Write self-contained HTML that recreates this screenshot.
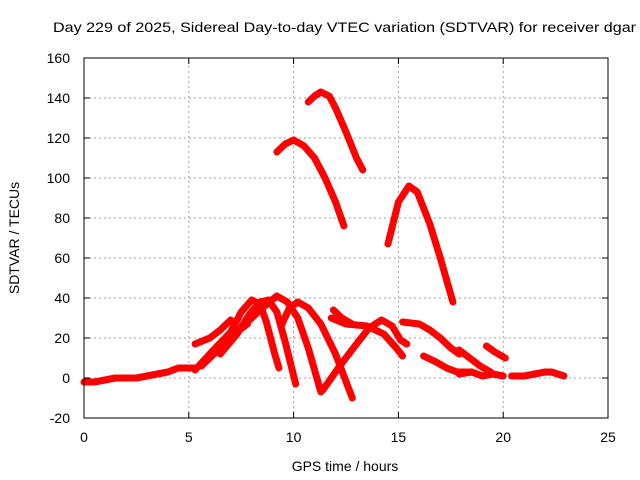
<!DOCTYPE html>
<html><head><meta charset="utf-8"><style>
body{margin:0;background:#fff}
svg{display:block;font-family:"Liberation Sans",sans-serif}
</style></head><body>
<svg id="chart" width="640" height="480">
<text x="53" y="32" font-size="14" fill="#000" textLength="583" lengthAdjust="spacingAndGlyphs">Day 229 of 2025, Sidereal Day-to-day VTEC variation (SDTVAR) for receiver dgar</text>
<text x="345" y="471" font-size="14" text-anchor="middle">GPS time / hours</text>
<text transform="translate(19,238) rotate(-90)" font-size="14" text-anchor="middle">SDTVAR / TECUs</text>
<g id="grid"></g><g id="series"></g><g id="axes"></g>
</svg>
<script>
const xTicks=[0,5,10,15,20,25];
const yTicks=[-20,0,20,40,60,80,100,120,140,160];
const baseline=[[0,-2],[0.5,-2],[1,-1],[1.5,0],[2.5,0],[3,1],[3.5,2],[4,3],[4.5,5],[5.3,5]];
const arcHighA=[[9.2,113],[9.6,117],[10,119],[10.5,116],[11,110],[11.5,100],[12,88],[12.4,76]];
const arcHighB=[[10.7,138],[11,141],[11.3,143],[11.7,141],[12,135],[12.5,123],[13,110],[13.3,104]];
const arcHighC=[[14.5,67],[15,88],[15.5,96],[15.9,93],[16.5,77],[17,60],[17.6,38]];
const arcLow1=[[5.3,4],[6,12],[7,23],[7.5,33],[8,39],[8.4,37],[8.7,28],[9.1,12],[9.3,5]];
const arcLow2=[[6.5,12],[7.3,22],[7.9,32],[8.4,38],[8.8,39],[9.2,33],[9.6,18],[10.1,-3]];
const arcLow3=[[7.5,25],[8.5,35],[9.2,41],[9.7,38],[10.2,30],[10.7,15],[11.3,-7]];
const arcLow4=[[9.4,26],[9.8,35],[10.2,38],[10.7,35],[11.3,27],[12,12],[12.8,-10]];
const rise1=[[11.4,-6],[12.2,6],[13,17],[13.6,25],[14.2,29],[14.7,26],[15.1,19],[15.4,17]];
const mid1=[[11.8,30],[12.5,27],[13.5,26],[14.3,22],[14.9,15],[15.2,11]];
const mid2=[[11.9,34],[12.3,30],[12.8,27]];
const early1=[[5.3,17],[6,20],[6.5,24],[7,29]];
const early2=[[5.6,6],[6.2,12],[6.8,18],[7.4,24],[7.8,27]];
const late1=[[15.2,28],[16,27],[16.5,24],[17,20],[17.5,15],[17.9,12]];
const late2=[[16.2,11],[16.8,8],[17.3,5],[17.8,3],[18.5,3]];
const late3=[[17.9,14],[18.4,10],[18.9,6],[19.4,3]];
const late4=[[19.2,16],[19.6,13],[20.1,10]];
const band1=[[17.9,2],[18.5,3],[19,1],[19.5,2],[20,1]];
const band2=[[20.4,1],[21,1],[21.5,2],[22,3],[22.3,3],[22.9,1]];
const allSeries=[baseline,arcHighA,arcHighB,arcHighC,arcLow1,arcLow2,arcLow3,arcLow4,rise1,mid1,mid2,early1,early2,late1,late2,late3,late4,band1,band2];
const X0=84,X1=608,Y0=418,Y1=58;
const sx=h=>X0+(h-0)/25*(X1-X0);
const sy=v=>Y0-(v+20)/180*(Y0-Y1);
const NS="http://www.w3.org/2000/svg";
function mk(t,a,p){const e=document.createElementNS(NS,t);for(const k in a)e.setAttribute(k,a[k]);p.appendChild(e);return e;}
const grid=document.getElementById('grid'),axes=document.getElementById('axes'),ser=document.getElementById('series');
xTicks.forEach(t=>{
 if(t>0&&t<25){const l=mk('line',{x1:sx(t),x2:sx(t),y1:Y0,y2:Y1,stroke:'#a0a0a0','stroke-dasharray':'2,3'},grid);
 
 }
 const tx=mk('text',{x:sx(t),y:Y0+24,'font-size':14,'text-anchor':'middle'},axes);tx.textContent=t;
 
 
 mk('line',{x1:sx(t),x2:sx(t),y1:Y0,y2:Y0-6,stroke:'#000'},axes);
 mk('line',{x1:sx(t),x2:sx(t),y1:Y1,y2:Y1+6,stroke:'#000'},axes);
});
yTicks.forEach(t=>{
 if(t>-20&&t<160){const l=mk('line',{x1:X0,x2:X1,y1:sy(t),y2:sy(t),stroke:'#a0a0a0','stroke-dasharray':'2,3'},grid);
 
 }
 const tx=mk('text',{x:X0-14,y:sy(t)+5,'font-size':14,'text-anchor':'end'},axes);tx.textContent=t;
 
 
 mk('line',{x1:X0,x2:X0+6,y1:sy(t),y2:sy(t),stroke:'#000'},axes);
 mk('line',{x1:X1,x2:X1-6,y1:sy(t),y2:sy(t),stroke:'#000'},axes);
});
const b=mk('rect',{x:X0,y:Y1,width:X1-X0,height:Y0-Y1,fill:'none',stroke:'#000'},axes);


allSeries.forEach(s=>{
 const p=mk('polyline',{points:s.map(d=>sx(d[0])+','+sy(d[1])).join(' '),fill:'none',stroke:'#ff0000','stroke-width':7,'stroke-linejoin':'round','stroke-linecap':'round'},ser);
 
 
});
</script>
</body></html>
